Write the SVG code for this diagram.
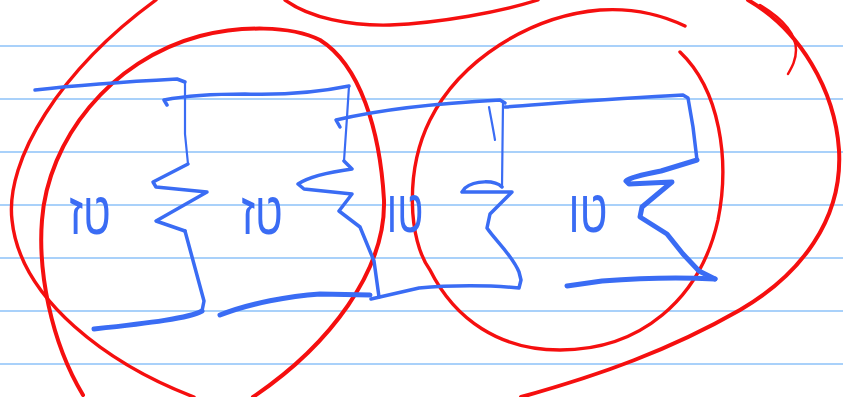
<svg xmlns="http://www.w3.org/2000/svg" width="843" height="397" viewBox="0 0 843 397">
<style>
.rule{stroke:#a9d1fa;stroke-width:2;fill:none}
.red{stroke:#f50f0f;stroke-width:3.4;fill:none;stroke-linecap:round;stroke-linejoin:round}
.blue{stroke:#3a6cf4;fill:none;stroke-linecap:round;stroke-linejoin:round}
.thin{stroke-width:2.2}
.mid{stroke-width:3.5}
.thick{stroke-width:5}
.lbl{font-family:"Liberation Sans","DejaVu Sans",sans-serif;font-size:50px;fill:#3a6cf4;text-anchor:middle}
</style>
<rect width="843" height="397" fill="#ffffff"/>
<g id="ruled-lines">
<line class="rule" x1="0" y1="46" x2="843" y2="46"/>
<line class="rule" x1="0" y1="99" x2="843" y2="99"/>
<line class="rule" x1="0" y1="152" x2="843" y2="152"/>
<line class="rule" x1="0" y1="205" x2="843" y2="205"/>
<line class="rule" x1="0" y1="258" x2="843" y2="258"/>
<line class="rule" x1="0" y1="311" x2="843" y2="311"/>
<line class="rule" x1="0" y1="364" x2="843" y2="364"/>
</g>
<g id="red-ovals">
<path class="red" d="M156,0 C60,70 5,160 12,220 C20,300 110,365 194,397"/>
<path class="red" d="M83,395 C50,340 38,270 42,220 C48,140 110,60 200,36 C240,26 290,25 320,40 C360,65 380,130 384,200 C386,270 330,345 253,397" style="stroke-width:4"/>
<path class="red" d="M285,0 C310,18 350,26 390,25 C440,23 500,12 538,0"/>
<path class="red" d="M685,26 C660,14 630,8 600,10 C530,16 460,60 430,120 C405,170 408,240 430,270 C455,320 500,350 560,350 C640,350 700,300 718,220 C730,160 720,90 680,52"/>
<path class="red" d="M748,0 C800,30 835,90 839,150 C843,220 800,275 740,310 C670,350 600,375 521,397" style="stroke-width:4"/>
<path class="red" d="M760,5 C785,20 796,35 796,50 C796,60 792,67 788,74" style="stroke-width:2.5"/>
</g>
<g id="connectors">
<g id="brace-1">
<path class="blue mid" d="M35,90 C70,86 120,82 177,79 L185,82"/>
<path class="blue thin" d="M185,82 L185,134 L188,164"/>
<path class="blue mid" d="M188,164 L153,182 L156,187 L207,192 L156,221 L185,231"/>
<path class="blue mid" d="M185,231 L204,301 L202,311"/>
<path class="blue thick" d="M202,311 C190,318 150,323 94,329"/>
</g>
<g id="brace-2">
<path class="blue mid" d="M167,105 L164,100 C190,95 220,94 245,94 C280,95 320,92 349,86"/>
<path class="blue thin" d="M349,86 L347,117 L344,161"/>
<path class="blue mid" d="M344,161 L352,169 C330,172 310,176 298,184 L304,189 L352,194 L339,211 L360,227 L374,261 L379,297"/>
<path class="blue thick" d="M220,315 C250,303 290,296 320,294 L370,295"/>
</g>
<g id="brace-3">
<path class="blue mid" d="M340,127 L336,120 C370,112 420,104 500,100 L505,103"/>
<path class="blue thin" d="M489,107 C491,118 493,128 495,140"/>
<path class="blue thin" d="M503,103 L502,187"/>
<path class="blue mid" d="M502,187 C495,180 475,180 465,188 L462,192 L512,192 L490,214 L487,228 C495,240 512,255 519,272 L521,280 L519,288 C490,285 450,285 419,288 L371,299"/>
</g>
<g id="brace-4">
<path class="blue mid" d="M505,107 C560,103 620,98 683,95 L688,98 L693,127 L697,160"/>
<path class="blue thick" d="M697,160 L661,171 C640,175 628,179 626,181 L629,184 L672,182 L642,207 L640,217 L667,234 L683,254 L699,271 L715,279"/>
<path class="blue thick" d="M715,279 C680,277 640,278 602,281 L567,286"/>
</g>
</g>
<g id="label-1"><text class="lbl" transform="translate(90,234) scale(0.85,1.2)">טז</text></g>
<g id="label-2"><text class="lbl" transform="translate(262,234) scale(0.85,1.2)">טז</text></g>
<g id="label-3"><text class="lbl" transform="translate(405,232) scale(0.8,1.2)">טו</text></g>
<g id="label-4"><text class="lbl" transform="translate(588,232) scale(0.85,1.2)">טו</text></g>
</svg>
